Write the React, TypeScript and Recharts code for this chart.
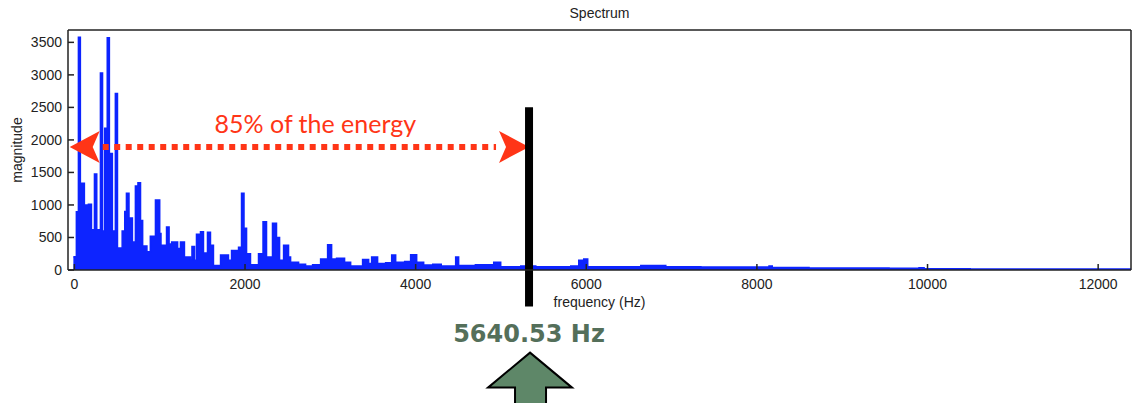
import React from 'react';
import { ComposedChart, Area, XAxis, YAxis, ReferenceLine } from 'recharts';

// spectrum, step points (value holds until next freq)
const FREQ_HZ = [
  -12, 23, 47, 70, 117, 164, 200, 235, 262, 305, 330, 355, 385, 410, 445, 480, 505, 560, 590, 610,
  640, 680, 715, 745, 775, 800, 850, 890, 950, 1000, 1015, 1080, 1110, 1140, 1210, 1243, 1290, 1360, 1378, 1408,
  1431, 1466, 1478, 1513, 1560, 1595, 1630, 1713, 1806, 1842, 1924, 1959, 1988, 2018, 2064, 2158, 2211, 2252, 2322, 2369,
  2405, 2452, 2510, 2534, 2628, 2710, 2792, 2886, 2968, 3015, 3073, 3167, 3238, 3331, 3378, 3449, 3484, 3554, 3648, 3719,
  3766, 3871, 3941, 4012, 4094, 4200, 4300, 4469, 4504, 4700, 4915, 4997, 5232, 5408, 5818, 5912, 5970, 6017, 6639, 6932,
  7343, 8142, 8180, 8611, 9549, 9900, 9960, 10500, 12385,
];
const MAGNITUDE = [
  205, 895, 3580, 1335, 1000, 1010, 620, 1475, 620, 3030, 600, 2180, 3570, 1790, 600, 2715, 340, 600, 900, 1180,
  800, 430, 1290, 1340, 760, 370, 280, 520, 1075, 560, 380, 660, 400, 430, 330, 430, 200, 150, 360, 150,
  550, 300, 590, 260, 580, 380, 70, 230, 150, 300, 350, 1180, 640, 250, 80, 250, 740, 200, 720, 500,
  150, 380, 200, 120, 90, 60, 80, 170, 390, 170, 180, 120, 60, 60, 160, 100, 200, 100, 110, 230,
  120, 130, 235, 120, 75, 90, 60, 200, 70, 80, 120, 50, 60, 50, 60, 150, 170, 50, 70, 50,
  45, 60, 40, 30, 25, 35, 20, 15, 15,
];

const X_TICKS = [0, 2000, 4000, 6000, 8000, 10000, 12000];
const Y_TICKS = [0, 500, 1000, 1500, 2000, 2500, 3000, 3500];
const X_DOMAIN = [-75, 12385];
const Y_DOMAIN = [0, 3690];

const CUTOFF_HZ = 5329;
const CUTOFF_SPAN = [-563, 2503];
const CUTOFF_LABEL = '5640.53 Hz';
const ENERGY_FROM_HZ = -55;
const ENERGY_LEVEL = 1893;
const ENERGY_LABEL = '85% of the energy';

const chartData = FREQ_HZ.map((f, i) => ({ freq: f, mag: MAGNITUDE[i] }));

const RED = '#ff3517';
const AXIS = '#222';

const EnergyArrow = (props: any) => {
  const { x1, y1, x2 } = props;
  const y = y1;
  return (
    <g>
      <line x1={x1 + 33} y1={y} x2={x2 - 33} y2={y} stroke={RED} strokeWidth={6} strokeDasharray="6 5.5" />
      <polygon points={`${x1},${y} ${x1 + 30},${y - 16} ${x1 + 23},${y} ${x1 + 30},${y + 16}`} fill={RED} />
      <polygon points={`${x2},${y} ${x2 - 30},${y - 16} ${x2 - 23},${y} ${x2 - 30},${y + 16}`} fill={RED} />
      <text x={(x1 + x2) / 2 + 16} y={y - 14} textAnchor="middle" fontFamily="Lato" fontSize={25} fill={RED}>
        {ENERGY_LABEL}
      </text>
    </g>
  );
};

const CutoffBar = (props: any) => {
  const { x1, y1, x2, y2 } = props;
  const bottom = Math.max(y1, y2);
  const cx = x1;
  const head = bottom + 81;
  const arrow = [
    [cx + 1, bottom + 46],
    [cx + 43, head],
    [cx + 17, head],
    [cx + 17, bottom + 115],
    [cx - 14, bottom + 115],
    [cx - 14, head],
    [cx - 41, head],
  ].map((p) => p.join(',')).join(' ');
  return (
    <g>
      <line x1={x1} y1={y1} x2={x2} y2={y2} stroke="#000" strokeWidth={8} />
      <text x={cx} y={bottom + 35} textAnchor="middle" fontFamily="DejaVu Sans" fontWeight="bold" fontSize={24} fill="#546f5a">
        {CUTOFF_LABEL}
      </text>
      <polygon points={arrow} fill="#5e8768" stroke="#000" strokeWidth={2} />
    </g>
  );
};

const YTitle = (props: any) => {
  const vb = props.viewBox || { x: 0, y: 30, width: 68, height: 240 };
  const x = vb.x + 17;
  const y = vb.y + vb.height / 2;
  return (
    <text x={x} y={y} transform={`rotate(-90, ${x}, ${y})`} textAnchor="middle" dominantBaseline="central" fontSize={14} fill={AXIS}>
      magnitude
    </text>
  );
};

const ChartTitle = (props: any) => {
  const vb = props.viewBox || { x: 68, y: 0, width: 1062, height: 30 };
  return (
    <text x={vb.x + vb.width / 2} y={vb.y + 18} textAnchor="middle" fontSize={14} fill={AXIS}>
      Spectrum
    </text>
  );
};

const App = () => {
  return (
    <div style={{ position: 'absolute', left: 0, top: 0, width: 1133, height: 403, background: '#fff' }}>
      <ComposedChart
        width={1133}
        height={403}
        data={chartData}
        margin={{ top: 0, right: 0, bottom: 93, left: 0 }}
        style={{ fontFamily: '"Liberation Sans", Arial, sans-serif' }}
      >
        <XAxis
          dataKey="freq"
          type="number"
          domain={X_DOMAIN}
          allowDataOverflow
          ticks={X_TICKS}
          height={40}
          tickSize={-6}
          tickMargin={15}
          stroke={AXIS}
          strokeWidth={1.5}
          tick={{ fill: AXIS, fontSize: 14 }}
          label={{ value: 'frequency (Hz)', position: 'insideBottom', offset: 3.5, fill: AXIS, fontSize: 14 }}
        />
        <XAxis
          xAxisId="top"
          orientation="top"
          type="number"
          domain={X_DOMAIN}
          allowDataOverflow
          ticks={X_TICKS}
          height={30}
          tickSize={-6}
          tick={false}
          stroke={AXIS}
          strokeWidth={1.5}
          label={<ChartTitle />}
        />
        <YAxis
          type="number"
          domain={Y_DOMAIN}
          allowDataOverflow
          ticks={Y_TICKS}
          width={68}
          tickSize={-6}
          tickMargin={12}
          stroke={AXIS}
          strokeWidth={1.5}
          tick={{ fill: AXIS, fontSize: 14 }}
          label={<YTitle />}
        />
        <YAxis
          yAxisId="right"
          orientation="right"
          type="number"
          domain={Y_DOMAIN}
          allowDataOverflow
          ticks={Y_TICKS}
          width={2}
          tickSize={-6}
          tick={false}
          stroke={AXIS}
          strokeWidth={1.5}
        />
        <Area
          dataKey="mag"
          type="stepAfter"
          stroke="#0d24ff"
          strokeWidth={1.5}
          fill="#0d24ff"
          fillOpacity={1}
          isAnimationActive={false}
          dot={false}
          activeDot={false}
        />
        <ReferenceLine
          segment={[{ x: ENERGY_FROM_HZ, y: ENERGY_LEVEL }, { x: CUTOFF_HZ, y: ENERGY_LEVEL }]}
          ifOverflow="visible"
          shape={EnergyArrow}
        />
        <ReferenceLine
          segment={[{ x: CUTOFF_HZ, y: CUTOFF_SPAN[1] }, { x: CUTOFF_HZ, y: CUTOFF_SPAN[0] }]}
          ifOverflow="visible"
          shape={CutoffBar}
        />
      </ComposedChart>
    </div>
  );
};

export default App;
